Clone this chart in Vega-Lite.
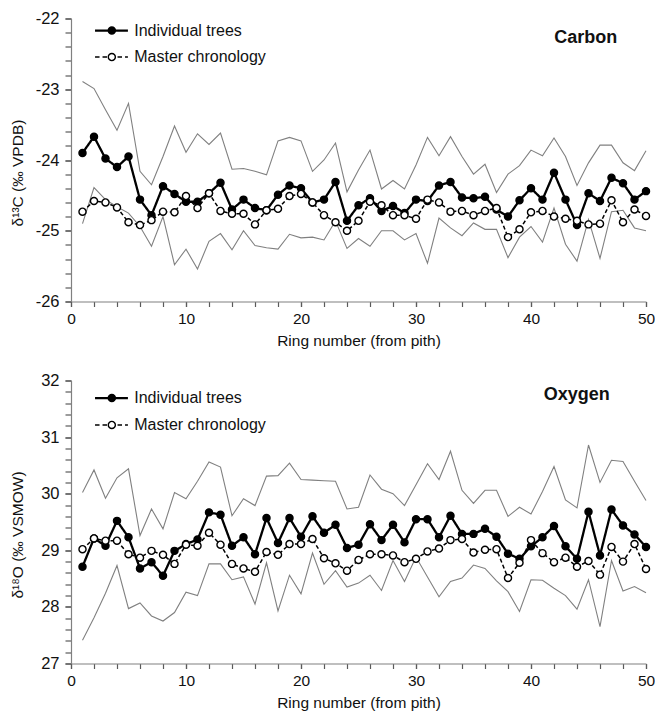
{
  "$schema": "https://vega.github.io/schema/vega-lite/v6.json",
  "padding": {"left": 10, "top": 10.5, "right": 0, "bottom": 0},
  "bounds": "flush",
  "spacing": 79,
  "background": "white",
  "datasets": {
    "carbon": [
      {"ring":1,"Individual trees":-23.90,"Master chronology":-24.73,"upper":-22.89,"lower":-24.90},
      {"ring":2,"Individual trees":-23.67,"Master chronology":-24.58,"upper":-22.99,"lower":-24.39},
      {"ring":3,"Individual trees":-23.98,"Master chronology":-24.60,"upper":-23.29,"lower":-24.56},
      {"ring":4,"Individual trees":-24.10,"Master chronology":-24.67,"upper":-23.58,"lower":-24.66},
      {"ring":5,"Individual trees":-23.95,"Master chronology":-24.88,"upper":-23.20,"lower":-24.75},
      {"ring":6,"Individual trees":-24.56,"Master chronology":-24.92,"upper":-24.16,"lower":-24.94},
      {"ring":7,"Individual trees":-24.78,"Master chronology":-24.85,"upper":-24.35,"lower":-25.22},
      {"ring":8,"Individual trees":-24.37,"Master chronology":-24.73,"upper":-23.95,"lower":-24.80},
      {"ring":9,"Individual trees":-24.48,"Master chronology":-24.74,"upper":-23.52,"lower":-25.48},
      {"ring":10,"Individual trees":-24.59,"Master chronology":-24.51,"upper":-23.89,"lower":-25.26},
      {"ring":11,"Individual trees":-24.59,"Master chronology":-24.68,"upper":-23.63,"lower":-25.54},
      {"ring":12,"Individual trees":-24.47,"Master chronology":-24.47,"upper":-23.78,"lower":-25.15},
      {"ring":13,"Individual trees":-24.32,"Master chronology":-24.72,"upper":-23.62,"lower":-25.04},
      {"ring":14,"Individual trees":-24.70,"Master chronology":-24.76,"upper":-24.13,"lower":-25.27},
      {"ring":15,"Individual trees":-24.56,"Master chronology":-24.76,"upper":-24.12,"lower":-25.00},
      {"ring":16,"Individual trees":-24.68,"Master chronology":-24.91,"upper":-24.16,"lower":-25.21},
      {"ring":17,"Individual trees":-24.71,"Master chronology":-24.71,"upper":-24.21,"lower":-25.24},
      {"ring":18,"Individual trees":-24.49,"Master chronology":-24.69,"upper":-23.73,"lower":-25.26},
      {"ring":19,"Individual trees":-24.36,"Master chronology":-24.51,"upper":-23.68,"lower":-25.05},
      {"ring":20,"Individual trees":-24.40,"Master chronology":-24.48,"upper":-23.73,"lower":-25.10},
      {"ring":21,"Individual trees":-24.60,"Master chronology":-24.60,"upper":-24.16,"lower":-25.09},
      {"ring":22,"Individual trees":-24.56,"Master chronology":-24.78,"upper":-24.00,"lower":-25.13},
      {"ring":23,"Individual trees":-24.31,"Master chronology":-24.88,"upper":-23.76,"lower":-24.86},
      {"ring":24,"Individual trees":-24.86,"Master chronology":-25.00,"upper":-24.45,"lower":-25.25},
      {"ring":25,"Individual trees":-24.64,"Master chronology":-24.86,"upper":-24.14,"lower":-25.11},
      {"ring":26,"Individual trees":-24.54,"Master chronology":-24.59,"upper":-23.86,"lower":-25.22},
      {"ring":27,"Individual trees":-24.72,"Master chronology":-24.64,"upper":-24.41,"lower":-25.00},
      {"ring":28,"Individual trees":-24.65,"Master chronology":-24.78,"upper":-24.29,"lower":-25.00},
      {"ring":29,"Individual trees":-24.75,"Master chronology":-24.78,"upper":-24.41,"lower":-25.13},
      {"ring":30,"Individual trees":-24.56,"Master chronology":-24.83,"upper":-24.07,"lower":-25.04},
      {"ring":31,"Individual trees":-24.58,"Master chronology":-24.56,"upper":-23.68,"lower":-25.46},
      {"ring":32,"Individual trees":-24.36,"Master chronology":-24.60,"upper":-23.94,"lower":-24.82},
      {"ring":33,"Individual trees":-24.31,"Master chronology":-24.73,"upper":-23.67,"lower":-24.96},
      {"ring":34,"Individual trees":-24.53,"Master chronology":-24.72,"upper":-23.95,"lower":-25.07},
      {"ring":35,"Individual trees":-24.54,"Master chronology":-24.78,"upper":-24.20,"lower":-24.89},
      {"ring":36,"Individual trees":-24.52,"Master chronology":-24.72,"upper":-24.06,"lower":-24.98},
      {"ring":37,"Individual trees":-24.70,"Master chronology":-24.68,"upper":-24.46,"lower":-24.98},
      {"ring":38,"Individual trees":-24.80,"Master chronology":-25.09,"upper":-24.20,"lower":-25.38},
      {"ring":39,"Individual trees":-24.57,"Master chronology":-24.98,"upper":-24.08,"lower":-25.09},
      {"ring":40,"Individual trees":-24.40,"Master chronology":-24.74,"upper":-23.86,"lower":-24.94},
      {"ring":41,"Individual trees":-24.56,"Master chronology":-24.72,"upper":-23.94,"lower":-25.16},
      {"ring":42,"Individual trees":-24.18,"Master chronology":-24.80,"upper":-23.69,"lower":-24.68},
      {"ring":43,"Individual trees":-24.56,"Master chronology":-24.83,"upper":-23.95,"lower":-25.19},
      {"ring":44,"Individual trees":-24.92,"Master chronology":-24.86,"upper":-24.36,"lower":-25.43},
      {"ring":45,"Individual trees":-24.47,"Master chronology":-24.91,"upper":-24.04,"lower":-24.84},
      {"ring":46,"Individual trees":-24.58,"Master chronology":-24.90,"upper":-23.79,"lower":-25.39},
      {"ring":47,"Individual trees":-24.25,"Master chronology":-24.57,"upper":-23.79,"lower":-24.73},
      {"ring":48,"Individual trees":-24.33,"Master chronology":-24.88,"upper":-24.04,"lower":-24.71},
      {"ring":49,"Individual trees":-24.56,"Master chronology":-24.70,"upper":-24.15,"lower":-24.96},
      {"ring":50,"Individual trees":-24.44,"Master chronology":-24.79,"upper":-23.87,"lower":-25.00}
    ],
    "oxygen": [
      {"ring":1,"Individual trees":28.71,"Master chronology":29.02,"upper":30.02,"lower":27.41},
      {"ring":2,"Individual trees":29.21,"Master chronology":29.21,"upper":30.42,"lower":27.81},
      {"ring":3,"Individual trees":29.08,"Master chronology":29.17,"upper":29.92,"lower":28.24},
      {"ring":4,"Individual trees":29.52,"Master chronology":29.17,"upper":30.28,"lower":28.73},
      {"ring":5,"Individual trees":29.23,"Master chronology":28.93,"upper":30.44,"lower":27.97},
      {"ring":6,"Individual trees":28.68,"Master chronology":28.87,"upper":29.26,"lower":28.07},
      {"ring":7,"Individual trees":28.79,"Master chronology":28.99,"upper":29.73,"lower":27.84},
      {"ring":8,"Individual trees":28.55,"Master chronology":28.92,"upper":29.38,"lower":27.75},
      {"ring":9,"Individual trees":28.99,"Master chronology":28.76,"upper":30.02,"lower":27.90},
      {"ring":10,"Individual trees":29.11,"Master chronology":29.10,"upper":29.91,"lower":28.26},
      {"ring":11,"Individual trees":29.19,"Master chronology":29.08,"upper":30.22,"lower":28.20},
      {"ring":12,"Individual trees":29.67,"Master chronology":29.31,"upper":30.56,"lower":28.76},
      {"ring":13,"Individual trees":29.63,"Master chronology":29.10,"upper":30.47,"lower":28.76},
      {"ring":14,"Individual trees":29.08,"Master chronology":28.76,"upper":29.61,"lower":28.48},
      {"ring":15,"Individual trees":29.23,"Master chronology":28.68,"upper":29.91,"lower":28.53},
      {"ring":16,"Individual trees":28.93,"Master chronology":28.62,"upper":29.79,"lower":28.05},
      {"ring":17,"Individual trees":29.57,"Master chronology":28.97,"upper":30.31,"lower":28.78},
      {"ring":18,"Individual trees":29.13,"Master chronology":28.92,"upper":30.32,"lower":27.93},
      {"ring":19,"Individual trees":29.57,"Master chronology":29.11,"upper":30.54,"lower":28.56},
      {"ring":20,"Individual trees":29.24,"Master chronology":29.11,"upper":30.25,"lower":28.23},
      {"ring":21,"Individual trees":29.60,"Master chronology":29.20,"upper":30.24,"lower":28.95},
      {"ring":22,"Individual trees":29.31,"Master chronology":28.86,"upper":30.23,"lower":28.40},
      {"ring":23,"Individual trees":29.45,"Master chronology":28.77,"upper":30.22,"lower":28.64},
      {"ring":24,"Individual trees":29.04,"Master chronology":28.64,"upper":29.73,"lower":28.35},
      {"ring":25,"Individual trees":29.10,"Master chronology":28.83,"upper":29.76,"lower":28.42},
      {"ring":26,"Individual trees":29.46,"Master chronology":28.93,"upper":30.33,"lower":28.56},
      {"ring":27,"Individual trees":29.18,"Master chronology":28.93,"upper":30.08,"lower":28.29},
      {"ring":28,"Individual trees":29.45,"Master chronology":28.91,"upper":30.00,"lower":28.82},
      {"ring":29,"Individual trees":29.14,"Master chronology":28.79,"upper":29.79,"lower":28.45},
      {"ring":30,"Individual trees":29.55,"Master chronology":28.85,"upper":30.16,"lower":28.88},
      {"ring":31,"Individual trees":29.55,"Master chronology":28.98,"upper":30.53,"lower":28.53},
      {"ring":32,"Individual trees":29.23,"Master chronology":29.03,"upper":30.25,"lower":28.18},
      {"ring":33,"Individual trees":29.61,"Master chronology":29.18,"upper":30.75,"lower":28.45},
      {"ring":34,"Individual trees":29.29,"Master chronology":29.20,"upper":30.06,"lower":28.51},
      {"ring":35,"Individual trees":29.29,"Master chronology":28.96,"upper":29.83,"lower":28.74},
      {"ring":36,"Individual trees":29.38,"Master chronology":29.01,"upper":30.06,"lower":28.68},
      {"ring":37,"Individual trees":29.24,"Master chronology":29.02,"upper":30.06,"lower":28.46},
      {"ring":38,"Individual trees":28.94,"Master chronology":28.51,"upper":29.60,"lower":28.27},
      {"ring":39,"Individual trees":28.85,"Master chronology":28.78,"upper":29.76,"lower":27.92},
      {"ring":40,"Individual trees":29.07,"Master chronology":29.18,"upper":29.64,"lower":28.48},
      {"ring":41,"Individual trees":29.23,"Master chronology":28.95,"upper":30.04,"lower":28.47},
      {"ring":42,"Individual trees":29.43,"Master chronology":28.79,"upper":30.48,"lower":28.33},
      {"ring":43,"Individual trees":29.07,"Master chronology":28.87,"upper":29.89,"lower":28.20},
      {"ring":44,"Individual trees":28.85,"Master chronology":28.71,"upper":29.75,"lower":27.96},
      {"ring":45,"Individual trees":29.68,"Master chronology":28.81,"upper":30.86,"lower":28.48},
      {"ring":46,"Individual trees":28.91,"Master chronology":28.57,"upper":30.20,"lower":27.65},
      {"ring":47,"Individual trees":29.72,"Master chronology":29.06,"upper":30.59,"lower":28.82},
      {"ring":48,"Individual trees":29.44,"Master chronology":28.80,"upper":30.57,"lower":28.28},
      {"ring":49,"Individual trees":29.28,"Master chronology":29.11,"upper":30.22,"lower":28.36},
      {"ring":50,"Individual trees":29.06,"Master chronology":28.67,"upper":29.88,"lower":28.25}
    ],
    "legend": [{"label": "Individual trees"}, {"label": "Master chronology"}]
  },
  "vconcat": [
    {
      "width": 575,
      "height": 283,
      "layer": [
        {
          "data": {"name": "carbon"},
          "transform": [{"fold": ["upper", "lower"], "as": ["series", "value"]}],
          "mark": {"type": "line", "color": "#808080", "strokeWidth": 1.1},
          "encoding": {
            "x": {"field": "ring", "type": "quantitative",
              "scale": {"domain": [0, 50], "nice": false, "zero": false},
              "axis": {"orient": "bottom", "title": null, "labels": false, "domain": false, "ticks": true, "tickSize": 5,
                "values": [0,2,4,6,8,10,12,14,16,18,20,22,24,26,28,30,32,34,36,38,40,42,44,46,48,50]}},
            "y": {"field": "value", "type": "quantitative",
              "scale": {"domain": [-26, -22], "nice": false, "zero": false},
              "axis": {"orient": "left", "title": null, "labels": false, "domain": false, "ticks": true, "tickSize": 6,
                "values": [-26,-25.8,-25.6,-25.4,-25.2,-25,-24.8,-24.6,-24.4,-24.2,-24,-23.8,-23.6,-23.4,-23.2,-23,-22.8,-22.6,-22.4,-22.2,-22]}},
            "detail": {"field": "series"}
          }
        },
        {
          "data": {"name": "carbon"},
          "transform": [{"fold": ["Individual trees", "Master chronology"], "as": ["series", "value"]}],
          "encoding": {
            "x": {"field": "ring", "type": "quantitative",
              "axis": {"orient": "bottom", "title": "Ring number (from pith)", "values": [0,10,20,30,40,50], "tickSize": 5}},
            "y": {"field": "value", "type": "quantitative",
              "axis": {"orient": "left", "title": "δ¹³C (‰ VPDB)", "titleX": -54, "titleY": 154, "titleBaseline": "middle",
                "values": [-26,-25,-24,-23,-22], "labelExpr": "'' + datum.value", "tickSize": 6}}
          },
          "layer": [
            {"mark": {"type": "line", "color": "black"},
              "encoding": {
                "strokeDash": {"field": "series", "type": "nominal",
                  "scale": {"domain": ["Individual trees", "Master chronology"], "range": [[1, 0], [4, 2.5]]}, "legend": null},
                "strokeWidth": {"field": "series", "type": "nominal",
                  "scale": {"domain": ["Individual trees", "Master chronology"], "range": [2.3, 1.5]}, "legend": null}
              }},
            {"mark": {"type": "circle", "size": 50, "stroke": "black", "strokeWidth": 1.4, "opacity": 1},
              "encoding": {
                "fill": {"field": "series", "type": "nominal",
                  "scale": {"domain": ["Individual trees", "Master chronology"], "range": ["black", "white"]}, "legend": null}
              }}
          ]
        },
        {
          "data": {"name": "legend"},
          "transform": [{"filter": "datum.label === 'Individual trees'"}],
          "encoding": {"y": {"datum": -22.17, "type": "quantitative", "axis": null}},
          "layer": [
            {"mark": {"type": "rule", "color": "black", "strokeWidth": 2.3},
              "encoding": {"x": {"datum": 2.09, "type": "quantitative", "axis": null}, "x2": {"datum": 4.95}}},
            {"mark": {"type": "circle", "size": 50, "color": "black", "stroke": "black", "strokeWidth": 1.4, "opacity": 1},
              "encoding": {"x": {"datum": 3.55, "type": "quantitative", "axis": null}}},
            {"mark": {"type": "text", "align": "left", "baseline": "middle", "fontSize": 16, "color": "#111"},
              "encoding": {"x": {"datum": 5.5, "type": "quantitative", "axis": null}, "text": {"field": "label"}}}
          ]
        },
        {
          "data": {"name": "legend"},
          "transform": [{"filter": "datum.label === 'Master chronology'"}],
          "encoding": {"y": {"datum": -22.545, "type": "quantitative", "axis": null}},
          "layer": [
            {"mark": {"type": "rule", "color": "black", "strokeWidth": 1.5, "strokeDash": [4.5, 3]},
              "encoding": {"x": {"datum": 2.09, "type": "quantitative", "axis": null}, "x2": {"datum": 4.95}}},
            {"mark": {"type": "circle", "size": 50, "fill": "white", "stroke": "black", "strokeWidth": 1.4, "opacity": 1},
              "encoding": {"x": {"datum": 3.55, "type": "quantitative", "axis": null}}},
            {"mark": {"type": "text", "align": "left", "baseline": "middle", "fontSize": 16, "color": "#111"},
              "encoding": {"x": {"datum": 5.5, "type": "quantitative", "axis": null}, "text": {"field": "label"}}}
          ]
        },
        {"data": {"values": [{"label": "Carbon"}]},
          "mark": {"type": "text", "fontSize": 18, "fontWeight": "bold", "color": "#111", "align": "center", "baseline": "middle"},
          "encoding": {"x": {"datum": 44.76, "type": "quantitative", "axis": null}, "y": {"datum": -22.28, "type": "quantitative", "axis": null}, "text": {"field": "label"}}}
      ],
      "resolve": {"axis": {"x": "independent", "y": "independent"}}
    },
    {
      "width": 575,
      "height": 283,
      "layer": [
        {
          "data": {"name": "oxygen"},
          "transform": [{"fold": ["upper", "lower"], "as": ["series", "value"]}],
          "mark": {"type": "line", "color": "#808080", "strokeWidth": 1.1},
          "encoding": {
            "x": {"field": "ring", "type": "quantitative",
              "scale": {"domain": [0, 50], "nice": false, "zero": false},
              "axis": {"orient": "bottom", "title": null, "labels": false, "domain": false, "ticks": true, "tickSize": 5,
                "values": [0,2,4,6,8,10,12,14,16,18,20,22,24,26,28,30,32,34,36,38,40,42,44,46,48,50]}},
            "y": {"field": "value", "type": "quantitative",
              "scale": {"domain": [27, 32], "nice": false, "zero": false},
              "axis": {"orient": "left", "title": null, "labels": false, "domain": false, "ticks": true, "tickSize": 6,
                "values": [27,27.2,27.4,27.6,27.8,28,28.2,28.4,28.6,28.8,29,29.2,29.4,29.6,29.8,30,30.2,30.4,30.6,30.8,31,31.2,31.4,31.6,31.8,32]}},
            "detail": {"field": "series"}
          }
        },
        {
          "data": {"name": "oxygen"},
          "transform": [{"fold": ["Individual trees", "Master chronology"], "as": ["series", "value"]}],
          "encoding": {
            "x": {"field": "ring", "type": "quantitative",
              "axis": {"orient": "bottom", "title": "Ring number (from pith)", "values": [0,10,20,30,40,50], "tickSize": 5}},
            "y": {"field": "value", "type": "quantitative",
              "axis": {"orient": "left", "title": "δ¹⁸O (‰ VSMOW)", "titleX": -54, "titleY": 154, "titleBaseline": "middle",
                "values": [27,28,29,30,31,32], "format": "d", "tickSize": 6}}
          },
          "layer": [
            {"mark": {"type": "line", "color": "black"},
              "encoding": {
                "strokeDash": {"field": "series", "type": "nominal",
                  "scale": {"domain": ["Individual trees", "Master chronology"], "range": [[1, 0], [4, 2.5]]}, "legend": null},
                "strokeWidth": {"field": "series", "type": "nominal",
                  "scale": {"domain": ["Individual trees", "Master chronology"], "range": [2.3, 1.5]}, "legend": null}
              }},
            {"mark": {"type": "circle", "size": 50, "stroke": "black", "strokeWidth": 1.4, "opacity": 1},
              "encoding": {
                "fill": {"field": "series", "type": "nominal",
                  "scale": {"domain": ["Individual trees", "Master chronology"], "range": ["black", "white"]}, "legend": null}
              }}
          ]
        },
        {
          "data": {"name": "legend"},
          "transform": [{"filter": "datum.label === 'Individual trees'"}],
          "encoding": {"y": {"datum": 31.69, "type": "quantitative", "axis": null}},
          "layer": [
            {"mark": {"type": "rule", "color": "black", "strokeWidth": 2.3},
              "encoding": {"x": {"datum": 2.09, "type": "quantitative", "axis": null}, "x2": {"datum": 4.95}}},
            {"mark": {"type": "circle", "size": 50, "color": "black", "stroke": "black", "strokeWidth": 1.4, "opacity": 1},
              "encoding": {"x": {"datum": 3.55, "type": "quantitative", "axis": null}}},
            {"mark": {"type": "text", "align": "left", "baseline": "middle", "fontSize": 16, "color": "#111"},
              "encoding": {"x": {"datum": 5.5, "type": "quantitative", "axis": null}, "text": {"field": "label"}}}
          ]
        },
        {
          "data": {"name": "legend"},
          "transform": [{"filter": "datum.label === 'Master chronology'"}],
          "encoding": {"y": {"datum": 31.215, "type": "quantitative", "axis": null}},
          "layer": [
            {"mark": {"type": "rule", "color": "black", "strokeWidth": 1.5, "strokeDash": [4.5, 3]},
              "encoding": {"x": {"datum": 2.09, "type": "quantitative", "axis": null}, "x2": {"datum": 4.95}}},
            {"mark": {"type": "circle", "size": 50, "fill": "white", "stroke": "black", "strokeWidth": 1.4, "opacity": 1},
              "encoding": {"x": {"datum": 3.55, "type": "quantitative", "axis": null}}},
            {"mark": {"type": "text", "align": "left", "baseline": "middle", "fontSize": 16, "color": "#111"},
              "encoding": {"x": {"datum": 5.5, "type": "quantitative", "axis": null}, "text": {"field": "label"}}}
          ]
        },
        {"data": {"values": [{"label": "Oxygen"}]},
          "mark": {"type": "text", "fontSize": 18, "fontWeight": "bold", "color": "#111", "align": "center", "baseline": "middle"},
          "encoding": {"x": {"datum": 43.97, "type": "quantitative", "axis": null}, "y": {"datum": 31.75, "type": "quantitative", "axis": null}, "text": {"field": "label"}}}
      ],
      "resolve": {"axis": {"x": "independent", "y": "independent"}}
    }
  ],
  "resolve": {"scale": {"y": "independent"}},
  "config": {
    "font": "Liberation Sans",
    "view": {"stroke": null},
    "axis": {"grid": false, "domainColor": "#808080", "domainWidth": 1.2, "tickColor": "#5a5a5a", "tickWidth": 1.2, "ticks": true,
      "labelColor": "#111", "titleColor": "#111", "titleFontSize": 15.5, "titleFontWeight": "normal",
      "labelFlush": false, "labelOverlap": false},
    "axisX": {"labelPadding": 5, "titlePadding": 6, "labelFontSize": 15.5},
    "axisY": {"labelPadding": 6, "labelFontSize": 16.5}
  }
}
